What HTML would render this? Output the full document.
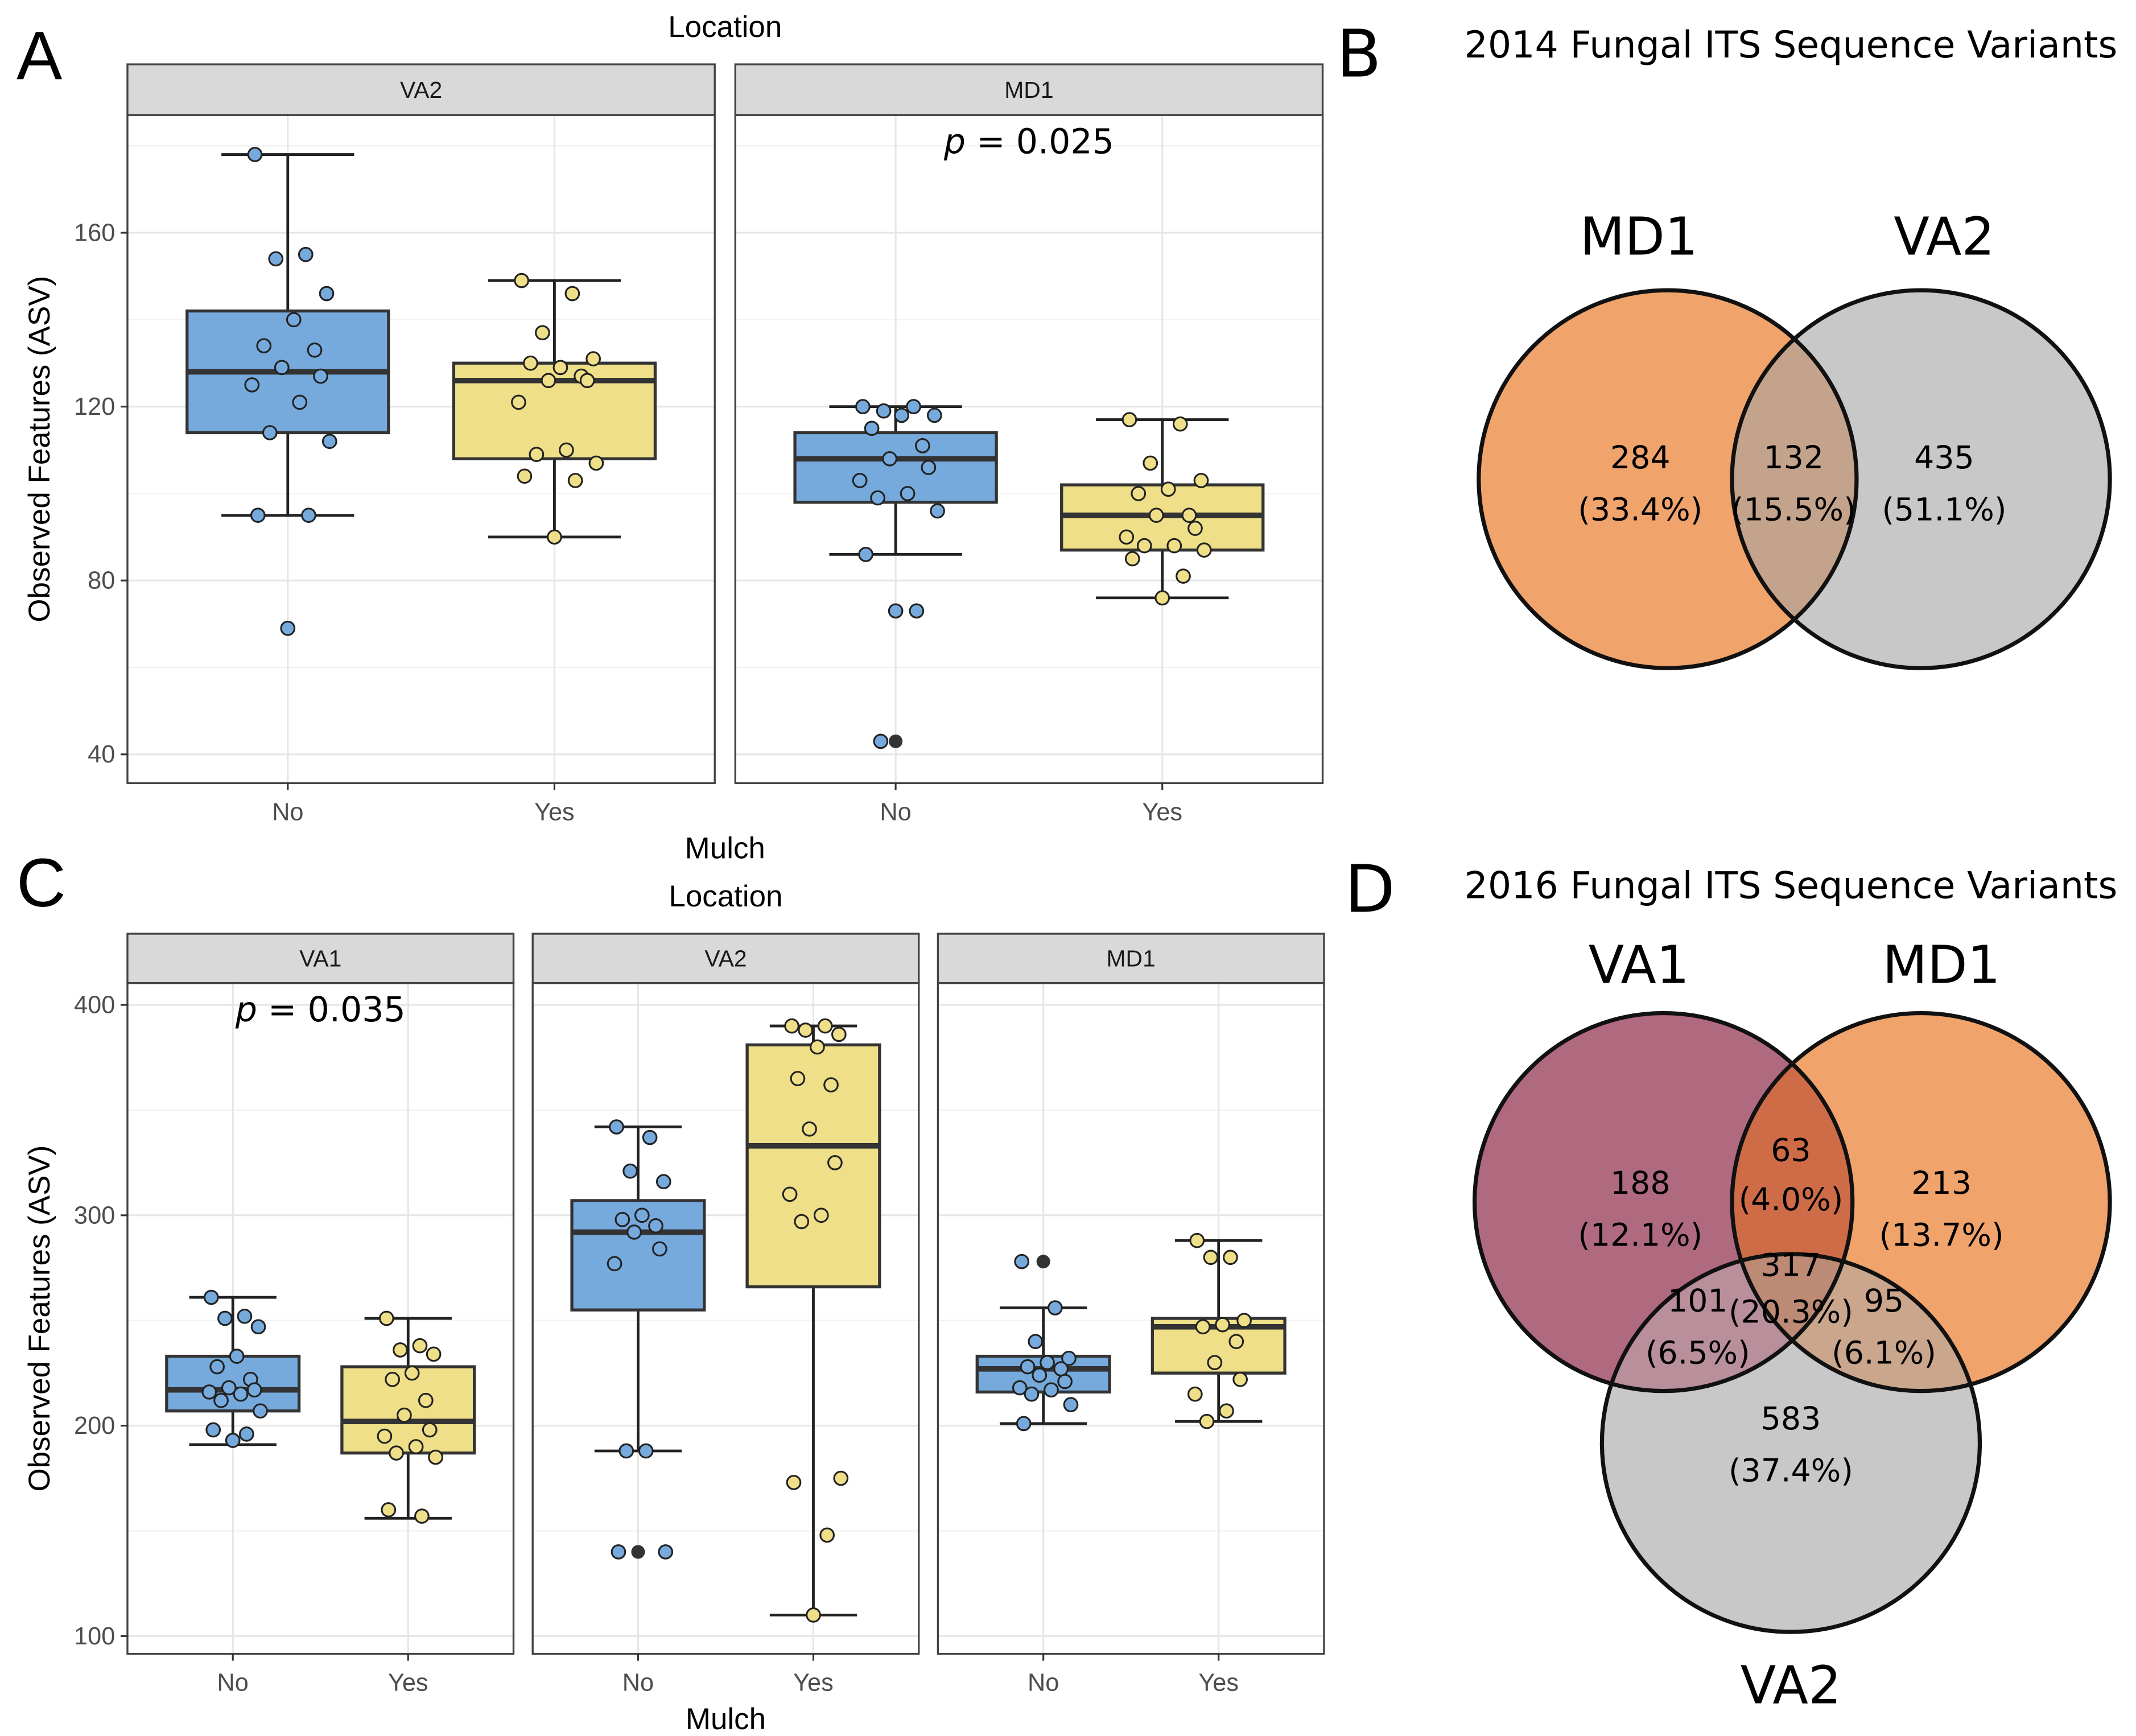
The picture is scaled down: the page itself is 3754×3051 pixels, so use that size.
<!DOCTYPE html>
<html><head><meta charset="utf-8">
<style>
html,body{margin:0;padding:0;background:#fff;}
svg{display:block;font-family:"Liberation Sans","DejaVu Sans",sans-serif;}
</style></head>
<body>
<svg id="fig" width="3754" height="3051" viewBox="0 0 1560 1268" xmlns="http://www.w3.org/2000/svg">
<rect width="1560" height="1268" fill="#fff"/>
<g id="plots"></g>
<text x="12" y="58" font-size="50">A</text>
<text x="976" y="56" font-size="48" font-family="DejaVu Sans">B</text>
<text x="12" y="662" font-size="50">C</text>
<text x="982" y="666" font-size="48" font-family="DejaVu Sans">D</text>

<defs>
<clipPath id="cB1"><circle cx="1218" cy="350" r="138"/></clipPath>
<clipPath id="cD1"><circle cx="1215" cy="878" r="138"/></clipPath>
<clipPath id="cD2"><circle cx="1403" cy="878" r="138"/></clipPath>
<clipPath id="cD3"><circle cx="1308" cy="1054" r="138"/></clipPath>
</defs>
<g font-family="DejaVu Sans">
<text x="1308" y="42" font-size="27" text-anchor="middle">2014 Fungal ITS Sequence Variants</text>
<circle cx="1218" cy="350" r="138" fill="#f0a46c"/>
<circle cx="1403" cy="350" r="138" fill="#c8c8c8"/>
<circle cx="1403" cy="350" r="138" fill="#c4a38c" clip-path="url(#cB1)"/>
<circle cx="1218" cy="350" r="138" fill="none" stroke="#111" stroke-width="3"/>
<circle cx="1403" cy="350" r="138" fill="none" stroke="#111" stroke-width="3"/>
<text x="1197" y="186" font-size="38" text-anchor="middle">MD1</text>
<text x="1420" y="186" font-size="38" text-anchor="middle">VA2</text>
<g font-size="23" text-anchor="middle">
<text x="1198" y="342">284</text><text x="1198" y="380">(33.4%)</text>
<text x="1310" y="342">132</text><text x="1310" y="380">(15.5%)</text>
<text x="1420" y="342">435</text><text x="1420" y="380">(51.1%)</text>
</g>
</g>

<g font-family="DejaVu Sans">
<text x="1308" y="656" font-size="27" text-anchor="middle">2016 Fungal ITS Sequence Variants</text>
<circle cx="1215" cy="878" r="138" fill="#b06a80"/>
<circle cx="1403" cy="878" r="138" fill="#f0a46c"/>
<circle cx="1308" cy="1054" r="138" fill="#c8c8c8"/>
<g clip-path="url(#cD1)"><circle cx="1403" cy="878" r="138" fill="#cf6c48"/></g>
<g clip-path="url(#cD1)"><circle cx="1308" cy="1054" r="138" fill="#b88f9a"/></g>
<g clip-path="url(#cD2)"><circle cx="1308" cy="1054" r="138" fill="#c9a68c"/></g>
<g clip-path="url(#cD1)"><g clip-path="url(#cD2)"><circle cx="1308" cy="1054" r="138" fill="#bd8a76"/></g></g>
<circle cx="1215" cy="878" r="138" fill="none" stroke="#111" stroke-width="3"/>
<circle cx="1403" cy="878" r="138" fill="none" stroke="#111" stroke-width="3"/>
<circle cx="1308" cy="1054" r="138" fill="none" stroke="#111" stroke-width="3"/>
<text x="1197" y="718" font-size="38" text-anchor="middle">VA1</text>
<text x="1418" y="718" font-size="38" text-anchor="middle">MD1</text>
<text x="1308" y="1244" font-size="38" text-anchor="middle">VA2</text>
<g font-size="23" text-anchor="middle">
<text x="1308" y="848">63</text><text x="1308" y="884">(4.0%)</text>
<text x="1198" y="872">188</text><text x="1198" y="910">(12.1%)</text>
<text x="1418" y="872">213</text><text x="1418" y="910">(13.7%)</text>
<text x="1308" y="932">317</text><text x="1308" y="966">(20.3%)</text>
<text x="1240" y="958">101</text><text x="1240" y="996">(6.5%)</text>
<text x="1376" y="958">95</text><text x="1376" y="996">(6.1%)</text>
<text x="1308" y="1044">583</text><text x="1308" y="1082">(37.4%)</text>
</g>
</g>
</svg>
<script>
const aFacets = ["VA2","MD1"];
const aCats = ["No","Yes"];
const aTicks = [40,80,120,160];
const aVA2No = [178,155,154,146,140,134,133,129,127,125,121,114,112,95,95,69];
const aVA2Yes = [149,146,137,131,129,130,127,126,126,121,110,109,107,104,103,90];
const aMD1No = [120,120,119,118,118,115,111,108,106,103,100,99,96,86,73,73,43];
const aMD1Yes = [117,116,107,103,101,100,95,95,92,90,88,88,87,85,81,76];
const aStats = [[95,114,128,142,178],[90,108,126,130,149],[86,98,108,114,120],[76,87,95,102,117]];
const aOutliers = [[69],[],[73,43],[]];
const cFacets = ["VA1","VA2","MD1"];
const cTicks = [100,200,300,400];
const cVA1No = [261,252,251,247,233,228,222,218,217,216,215,212,207,198,196,193];
const cVA1Yes = [251,238,236,234,225,222,212,205,198,195,190,187,185,160,157];
const cVA2No = [342,337,321,316,300,298,295,292,284,277,188,188,140,140];
const cVA2Yes = [390,390,388,386,380,365,362,341,325,310,300,297,175,173,148,110];
const cMD1No = [278,256,240,232,230,228,227,224,221,218,217,215,210,201];
const cMD1Yes = [288,280,280,250,248,247,240,230,222,215,207,202];
const cStats = [[191,207,217,233,261],[156,187,202,228,251],[188,255,292,307,342],[110,266,333,381,390],[201,216,227,233,256],[202,225,247,251,288]];
const cOutliers = [[],[],[140],[],[278],[]];

const NS="http://www.w3.org/2000/svg";
const root=document.getElementById('plots');
function mk(tag,attrs,parent){const e=document.createElementNS(NS,tag);for(const k in attrs)e.setAttribute(k,attrs[k]);(parent||root).appendChild(e);return e;}
const jit=[-0.55,0.3,-0.2,0.65,0.1,-0.4,0.45,-0.1,0.55,-0.6,0.2,-0.3,0.7,-0.5,0.35,0.0,-0.25];
const BLUE="#76aadd", YEL="#eedf88";

function panel(cfg){
  const {x0,y0,w,h,stripTop,facets,ticks,ymin,ymax,series,stats,outliers,minor,pText,pFacet,locY,mulchY,ylabY}=cfg;
  const gap=cfg.gap;
  const y=v=>y0+h-(v-ymin)/(ymax-ymin)*h;
  facets.forEach((f,fi)=>{
    const px=x0+fi*(w+gap);
    const g=mk('g',{});
    
    
    mk('rect',{x:px,y:y0,width:w,height:h,fill:'#fff'},g);
    minor.forEach(v=>mk('line',{x1:px,x2:px+w,y1:y(v),y2:y(v),stroke:'#f2f2f2','stroke-width':1},g));
    ticks.forEach(v=>mk('line',{x1:px,x2:px+w,y1:y(v),y2:y(v),stroke:'#e6e6e6','stroke-width':1.3},g));
    const cx=[px+w*0.273,px+w*0.727];
    cx.forEach(c=>mk('line',{x1:c,x2:c,y1:y0,y2:y0+h,stroke:'#e6e6e6','stroke-width':1.3},g));
    const bw=w*0.343/2, cw=w*0.226/2;
    [0,1].forEach(ci=>{
      const si=fi*2+ci, st=stats[si], c=cx[ci], col=ci?YEL:BLUE;
      const bg=mk('g',{},g);
      
      
      mk('line',{x1:c,x2:c,y1:y(st[0]),y2:y(st[4]),stroke:'#222','stroke-width':2},bg);
      mk('line',{x1:c-cw,x2:c+cw,y1:y(st[0]),y2:y(st[0]),stroke:'#222','stroke-width':2},bg);
      mk('line',{x1:c-cw,x2:c+cw,y1:y(st[4]),y2:y(st[4]),stroke:'#222','stroke-width':2},bg);
      mk('rect',{x:c-bw,y:y(st[3]),width:2*bw,height:y(st[1])-y(st[3]),fill:col,stroke:'#333','stroke-width':2.2},bg);
      mk('line',{x1:c-bw,x2:c+bw,y1:y(st[2]),y2:y(st[2]),stroke:'#333','stroke-width':4},bg);
      outliers[si].forEach(v=>mk('circle',{cx:c,cy:y(v),r:5,fill:'#333'},bg));
      series[si].forEach((v,k)=>{
        const p=mk('circle',{cx:c+jit[k%jit.length]*cw*0.9,cy:y(v),r:4.9,fill:col,stroke:'#222','stroke-width':1.3},bg);
        
        
      });
    });
    mk('rect',{x:px,y:y0,width:w,height:h,fill:'none',stroke:'#444','stroke-width':1.4},g);
    mk('rect',{x:px,y:stripTop,width:w,height:y0-stripTop,fill:'#d9d9d9',stroke:'#444','stroke-width':1.4},g);
    const st=mk('text',{x:px+w/2,y:stripTop+(y0-stripTop)/2+6,'font-size':17,'text-anchor':'middle',fill:'#1a1a1a'},g);
    st.textContent=f;
    ["No","Yes"].forEach((lab,ci)=>{
      mk('line',{x1:cx[ci],x2:cx[ci],y1:y0+h,y2:y0+h+5,stroke:'#333','stroke-width':1.3},g);
      const t=mk('text',{x:cx[ci],y:y0+h+27,'font-size':18,'text-anchor':'middle',fill:'#4d4d4d'},g);
      t.textContent=lab;
    });
    if(fi===pFacet){
      const t=mk('text',{x:px+w/2,y:y0+28,'font-size':25,'text-anchor':'middle','font-family':'DejaVu Sans'},g);
      t.innerHTML='<tspan font-style="italic">p</tspan> = '+pText;
    }
  });
  ticks.forEach(v=>{
    mk('line',{x1:x0-5,x2:x0,y1:y(v),y2:y(v),stroke:'#333','stroke-width':1.3});
    const t=mk('text',{x:x0-9,y:y(v)+6,'font-size':18,'text-anchor':'end',fill:'#4d4d4d'});
    t.textContent=v;
  });
  const yl=mk('text',{x:0,y:0,'font-size':22,'text-anchor':'middle',transform:`translate(36,${ylabY}) rotate(-90)`});
  yl.textContent='Observed Features (ASV)';
  
  
  const xr=x0+facets.length*w+(facets.length-1)*gap;
  const lt=mk('text',{x:(x0+xr)/2,y:locY,'font-size':22,'text-anchor':'middle'});lt.textContent='Location';
  
  
  const mt=mk('text',{x:(x0+xr)/2,y:mulchY,'font-size':22,'text-anchor':'middle'});mt.textContent='Mulch';
  
  
}
panel({x0:93,w:429,gap:15,stripTop:47,facets:aFacets,ticks:aTicks,minor:[60,100,140,180],
  series:[aVA2No,aVA2Yes,aMD1No,aMD1Yes],stats:aStats,outliers:aOutliers,pText:'0.025',pFacet:1,locY:27,mulchY:627,ylabY:328,
  ...(()=>{const ymin=40-(572-551)/3.175,ymax=40+(551-84)/3.175;return {ymin:ymin,ymax:ymax,y0:84,h:488};})()});
panel({x0:93,w:282,gap:14,stripTop:682,facets:cFacets,ticks:cTicks,minor:[150,250,350],
  series:[cVA1No,cVA1Yes,cVA2No,cVA2Yes,cMD1No,cMD1Yes],stats:cStats,outliers:cOutliers,pText:'0.035',pFacet:0,locY:662,mulchY:1263,ylabY:963,
  ...(()=>{const s=(1195-734)/300;const ymin=100-(1208-1195)/s,ymax=400+(734-718)/s;return {ymin:ymin,ymax:ymax,y0:718,h:490};})()});
</script>
</body></html>
